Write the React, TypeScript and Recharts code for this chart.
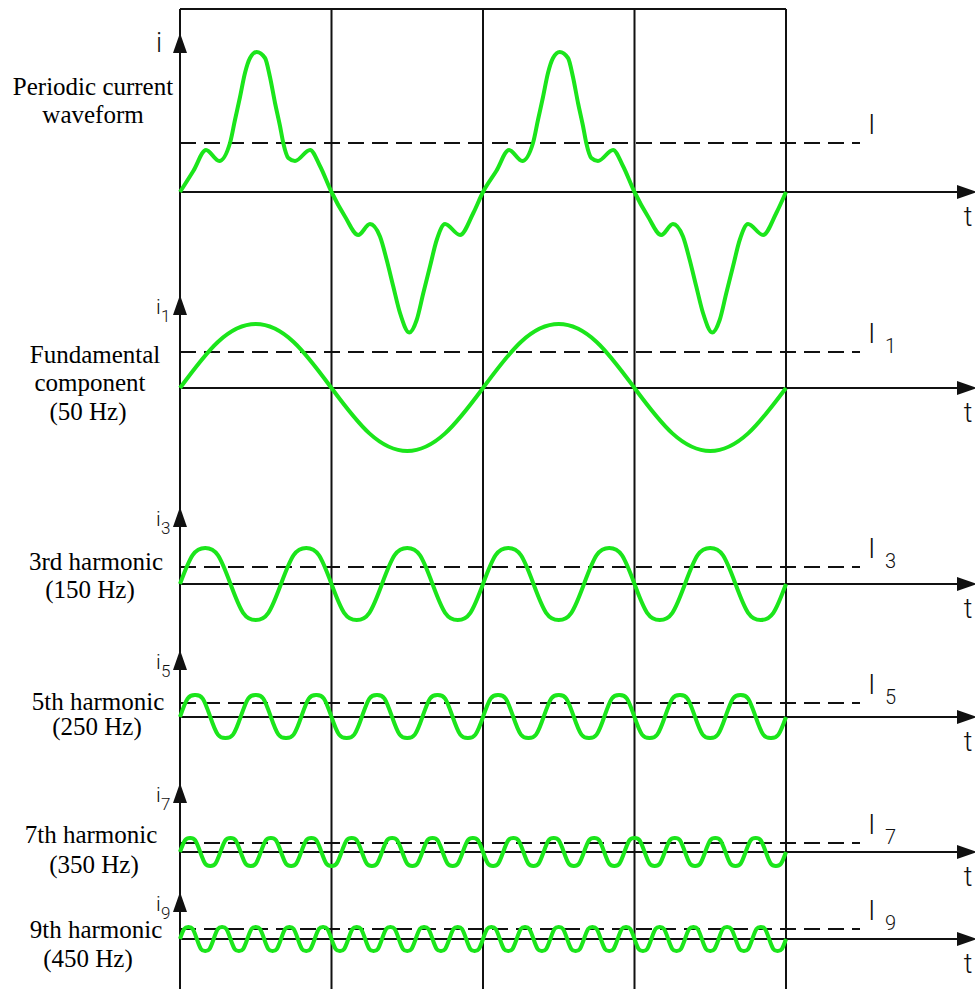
import React from 'react';
import { ComposedChart, Line, XAxis, YAxis, ReferenceLine, ReferenceDot } from 'recharts';

// ---- waveform values (time in degrees of the 50 Hz fundamental, amplitude in drawing units)
const periodicPosDeg = [0, 15.8, 30.9, 46.7, 59.4, 65.3, 71.3, 77.2, 83.2, 91.1, 101, 106.9, 112.9, 118.8, 122.7, 128.7, 136.6, 154.5, 166.3, 180];
const periodicPosVal = [0, 21, 42, 31, 49, 72, 95, 119, 134, 140, 134, 115, 89, 66, 49, 34, 31, 42, 26, 0];
const periodicNegDeg = [196, 211.8, 225.7, 237.6, 245.6, 253.4, 261.4, 272.4, 281.2, 289.1, 297, 305, 314.9, 332.7, 348.5, 360];
const periodicNegVal = [-24.5, -43, -32, -44.5, -68, -94.5, -121, -140.5, -128, -101, -74.5, -48, -32, -43, -21, 0];

// peak value of every half cycle over two fundamental periods
const fundamentalPeaks = [64, -63, 64, -63];
const h3Peaks = [36, -36, 36, -36, 36, -36, 36, -36, 36, -36, 36, -36];
const h5Peaks = [22, -21, 22, -21, 22, -21, 22, -21, 22, -21, 22, -21, 22, -21, 22, -21, 22, -21, 22, -21];
const h7Peaks = [
  14, -14, 14, -14, 14, -14, 14, -14, 14, -14, 14, -14, 14, -14, 14,
  -14, 14, -14, 14, -14, 14, -14, 14, -14, 14, -14, 14, -14, 14, -14,
];
const h9Peaks = [
  12, -12, 12, -12, 12, -12, 12, -12, 12, -12, 12, -12, 12, -12, 12, -12, 12, -12,
  12, -12, 12, -12, 12, -12, 12, -12, 12, -12, 12, -12, 12, -12, 12, -12, 12, -12,
];
// value halfway between a zero crossing and the next peak, relative to that peak
const shoulders = [0.72, 0.8, 0.84, 0.84, 0.84];

// effective (rms) value of each current, drawn as the dashed line
const rmsLevels = [49, 36, 17, 14, 9, 10];
const subscripts = ['', '1', '3', '5', '7', '9'];
const panelTitles = [
  ['Periodic current', 'waveform'],
  ['Fundamental', 'component', '(50 Hz)'],
  ['3rd harmonic', '(150 Hz)'],
  ['5th harmonic', '(250 Hz)'],
  ['7th harmonic', '(350 Hz)'],
  ['9th harmonic', '(450 Hz)'],
];
const gridDeg = [0, 180, 360, 540, 720];

// ---- layout
const WIDTH = 975;
const HEIGHT = 989;
const TOP = 9;
const ORIGIN_X = 180;
const END_X = 786;
const DEG_PX = (END_X - ORIGIN_X) / 720;
const toDeg = (px: number) => (px - ORIGIN_X) / DEG_PX;
const baselines = [192, 388, 584, 717, 852, 939];
const axisHeights = [159, 93, 77, 67, 69, 47];
const titlePos = [
  [[93, 87], [93, 115]],
  [[95, 355], [90, 383], [88, 412]],
  [[96, 562], [90, 590]],
  [[98, 702], [97, 727]],
  [[91, 835], [94, 865]],
  [[96, 930], [88, 959]],
];
const AXIS_END = toDeg(957);
const DASH_END = toDeg(860);

const GREEN = '#1be51b';
const INK = '#111';
const SANS = 'Roboto, "Liberation Sans", sans-serif';
const SERIF = '"Liberation Serif", "Times New Roman", serif';

type Pt = { x: number; y: number };

const periodicOnePeriod: Pt[] = [
  ...periodicPosDeg.map((x, i) => ({ x, y: periodicPosVal[i] })),
  ...periodicNegDeg.map((x, i) => ({ x, y: periodicNegVal[i] })),
];
const periodicData: Pt[] = [
  ...periodicOnePeriod,
  ...periodicOnePeriod.slice(1).map((p) => ({ x: p.x + 360, y: p.y })),
];

// zero, shoulder, peak, shoulder, zero ... for each half cycle
function harmonicData(peaks: number[], shoulder: number): Pt[] {
  const half = 720 / peaks.length;
  const pts: Pt[] = [{ x: 0, y: 0 }];
  peaks.forEach((p, i) => {
    const x0 = i * half;
    pts.push({ x: x0 + half / 4, y: p * shoulder });
    pts.push({ x: x0 + half / 2, y: p });
    pts.push({ x: x0 + (3 * half) / 4, y: p * shoulder });
    pts.push({ x: x0 + half, y: 0 });
  });
  return pts;
}

const series = [
  { data: periodicData, curve: 'monotone' },
  { data: harmonicData(fundamentalPeaks, shoulders[0]), curve: 'natural' },
  { data: harmonicData(h3Peaks, shoulders[1]), curve: 'natural' },
  { data: harmonicData(h5Peaks, shoulders[2]), curve: 'natural' },
  { data: harmonicData(h7Peaks, shoulders[3]), curve: 'natural' },
  { data: harmonicData(h9Peaks, shoulders[4]), curve: 'natural' },
];

const upArrow = (k: number) => (p: any) => (
  <g>
    <polygon points={`${p.cx},${p.cy} ${p.cx - 7},${p.cy + 20} ${p.cx + 7},${p.cy + 20}`} fill={INK} />
    <text x={p.cx - 24} y={p.cy + 19} fontFamily={SANS} fontWeight={300} fontSize={k === 0 ? 27 : 21} fill={INK}>
      i
    </text>
    {subscripts[k] && (
      <text x={p.cx - 19} y={p.cy + 27} fontFamily={SANS} fontWeight={300} fontSize={17} fill={INK}>
        {subscripts[k]}
      </text>
    )}
  </g>
);

const timeArrow = (p: any) => (
  <g>
    <polygon points={`${p.cx + 20},${p.cy} ${p.cx},${p.cy - 7} ${p.cx},${p.cy + 7}`} fill={INK} />
    <text x={p.cx + 11} y={p.cy + 34} textAnchor="middle" fontFamily={SANS} fontWeight={300} fontSize={27} fill={INK}>
      t
    </text>
  </g>
);

const rmsLabel = (k: number) => (p: any) => (
  <g>
    <text x={p.cx + 8} y={p.cy - 9} fontFamily={SANS} fontWeight={300} fontSize={28} fill={INK}>
      I
    </text>
    {subscripts[k] && (
      <text x={p.cx + 25} y={p.cy + 1} fontFamily={SANS} fontWeight={300} fontSize={20} fill={INK}>
        {subscripts[k]}
      </text>
    )}
  </g>
);

export default function App() {
  return (
    <div style={{ position: 'absolute', left: 0, top: 0, width: WIDTH, height: HEIGHT, background: '#fff' }}>
      <ComposedChart width={WIDTH} height={HEIGHT} margin={{ top: TOP, right: 0, bottom: 0, left: 0 }}>
        <XAxis type="number" dataKey="x" domain={[toDeg(0), toDeg(WIDTH)]} allowDataOverflow hide />
        {baselines.map((b, k) => (
          <YAxis key={`y${k}`} yAxisId={`p${k}`} type="number" domain={[b - HEIGHT, b - TOP]} allowDataOverflow hide />
        ))}
        {gridDeg.map((d) => (
          <ReferenceLine key={`g${d}`} x={d} yAxisId="p0" stroke={INK} strokeWidth={2} ifOverflow="visible" />
        ))}
        <ReferenceLine
          yAxisId="p0"
          segment={[{ x: 0, y: baselines[0] - TOP }, { x: 720, y: baselines[0] - TOP }]}
          stroke={INK}
          strokeWidth={2}
          ifOverflow="visible"
        />
        {baselines.map((_, k) => (
          <ReferenceLine
            key={`a${k}`}
            yAxisId={`p${k}`}
            segment={[{ x: 0, y: 0 }, { x: AXIS_END, y: 0 }]}
            stroke={INK}
            strokeWidth={2}
            ifOverflow="visible"
          />
        ))}
        {rmsLevels.map((lv, k) => (
          <ReferenceLine
            key={`r${k}`}
            yAxisId={`p${k}`}
            segment={[{ x: 0, y: lv }, { x: DASH_END, y: lv }]}
            stroke={INK}
            strokeWidth={2}
            strokeDasharray="16 8"
            ifOverflow="visible"
          />
        ))}
        {series.map((s, k) => (
          <Line
            key={`s${k}`}
            yAxisId={`p${k}`}
            data={s.data}
            dataKey="y"
            type={s.curve as any}
            stroke={GREEN}
            strokeWidth={4}
            dot={false}
            activeDot={false}
            isAnimationActive={false}
          />
        ))}
        {axisHeights.map((h, k) => (
          <ReferenceDot key={`u${k}`} yAxisId={`p${k}`} x={0} y={h} shape={upArrow(k)} ifOverflow="visible" />
        ))}
        {baselines.map((_, k) => (
          <ReferenceDot key={`t${k}`} yAxisId={`p${k}`} x={AXIS_END} y={0} shape={timeArrow} ifOverflow="visible" />
        ))}
        {rmsLevels.map((lv, k) => (
          <ReferenceDot key={`l${k}`} yAxisId={`p${k}`} x={DASH_END} y={lv} shape={rmsLabel(k)} ifOverflow="visible" />
        ))}
      </ComposedChart>
      {panelTitles.map((lines, k) =>
        lines.map((txt, j) => (
          <div
            key={`${k}-${j}`}
            style={{
              position: 'absolute',
              left: titlePos[k][j][0] - 110,
              top: titlePos[k][j][1] - 15,
              width: 220,
              height: 30,
              lineHeight: '30px',
              textAlign: 'center',
              fontFamily: SERIF,
              fontSize: 25,
              color: '#000',
              whiteSpace: 'nowrap',
            }}
          >
            {txt}
          </div>
        )),
      )}
    </div>
  );
}
